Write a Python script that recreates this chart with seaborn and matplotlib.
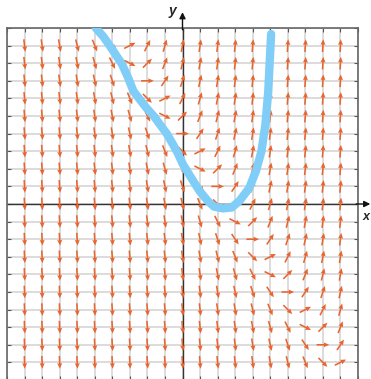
import numpy as np
import pandas as pd
import matplotlib
matplotlib.use("Agg")
import matplotlib.pyplot as plt
import seaborn as sns

# grid of arrow positions
grid_x = list(range(-9, 10))
grid_y = list(range(-9, 10))

# slope field dy/dx = a*x + b*y + c  (zero-slope line: y = 4 - 1.5x)
slope_a = 1.5
slope_b = 1.0
slope_c = -4.0

# hand drawn solution curve
curve_x = [-4.94, -4.5, -4.15, -3.75, -3.45, -3.1, -2.8, -2.4, -2.05, -1.6, -1.31,
           -0.9, -0.55, -0.25, 0.02, 0.49, 0.97, 1.44, 1.8, 2.3, 2.8, 3.24, 3.8,
           4.19, 4.5, 4.72, 4.88, 4.98, 5.05]
curve_y = [10.0, 9.5, 9.0, 8.4, 7.95, 7.18, 6.42, 5.9, 5.45, 4.95, 4.55,
           4.0, 3.4, 2.85, 2.26, 1.5, 0.74, 0.17, -0.15, -0.25, -0.2, 0.17, 0.9,
           1.88, 3.0, 4.5, 6.3, 8.3, 9.66]

sns.set_theme(style="white")
plt.rcParams["font.family"] = ["Liberation Sans", "DejaVu Sans"]

fig = plt.figure(figsize=(3.71, 3.79), dpi=100)
ax = fig.add_axes([7 / 371, -1 / 379, 351 / 371, 352 / 379])

ax.set_xlim(-10, 10)
ax.set_ylim(-10, 10)
ax.set_xticks(range(-10, 11))
ax.set_yticks(range(-10, 11))
ax.set_xticklabels([])
ax.set_yticklabels([])
ax.grid(True, color="#d6d6d6", linewidth=1.2, zorder=0)
ax.set_axisbelow(True)
ax.tick_params(direction="in", length=3, width=0.8, color="#555555",
               top=True, right=True, bottom=True, left=True)
for sp in ax.spines.values():
    sp.set_color("#666666")
    sp.set_linewidth(1.2)

# axes through the origin with arrow heads
ax.axhline(0, color="#333333", lw=1.0, zorder=1)
ax.axvline(0, color="#333333", lw=1.0, zorder=1)
ax.annotate("", xy=(0, 10.9), xytext=(0, 9.9), annotation_clip=False,
            arrowprops=dict(arrowstyle="-|>", color="#111111", lw=1.0,
                            mutation_scale=9, shrinkA=0, shrinkB=0))
ax.annotate("", xy=(10.7, 0), xytext=(9.9, 0), annotation_clip=False,
            arrowprops=dict(arrowstyle="-|>", color="#111111", lw=1.0,
                            mutation_scale=9, shrinkA=0, shrinkB=0))
ax.text(-0.35, 10.95, "y", ha="right", va="center", fontsize=10,
        fontweight="bold", style="italic", clip_on=False)
ax.text(10.25, -0.75, "x", ha="left", va="center", fontsize=9,
        fontweight="bold", style="italic", clip_on=False)

# direction field
X, Y = np.meshgrid(grid_x, grid_y)
S = slope_a * X + slope_b * Y + slope_c
norm = np.sqrt(1 + S ** 2)
L = 0.72
ax.quiver(X, Y, L / norm, L * S / norm, angles="xy", scale_units="xy", scale=1,
          pivot="mid", color="#e8652f", width=0.0045, headwidth=3.2,
          headlength=3.6, headaxislength=3.2, zorder=3)

# solution curve
df = pd.DataFrame({"x": curve_x, "y": curve_y})
sns.lineplot(data=df, x="x", y="y", sort=False, ax=ax, color="#80cef8",
             linewidth=6, solid_capstyle="round", solid_joinstyle="round", zorder=4)
ax.set_xlabel("")
ax.set_ylabel("")

fig.savefig("out.png", dpi=100)
